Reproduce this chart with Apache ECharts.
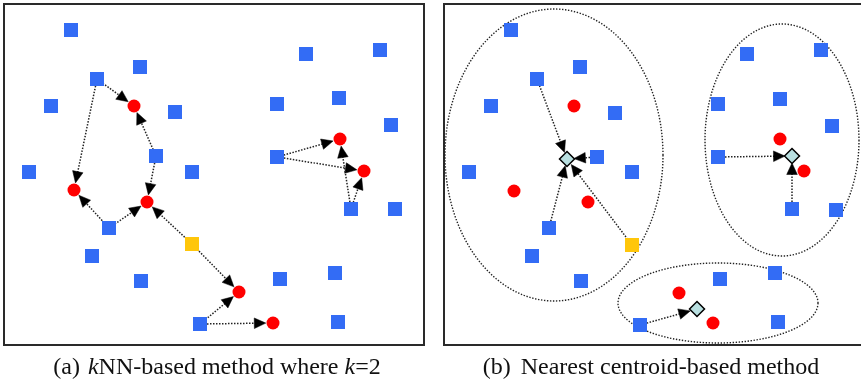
<!DOCTYPE html>
<html><head><meta charset="utf-8">
<script src="https://cdn.jsdelivr.net/npm/echarts@6/dist/echarts.min.js"></script>
<style>html,body{margin:0;padding:0;background:#fff}#c{width:861px;height:382px}</style>
</head><body><div id="c"></div>
<script>
// ---- Panel (a): kNN-based ----
const blueA = [[71,30],[140,67],[97,79],[51,106],[175,112],[156,156],[29,172],[192,172],[306,54],[380,50],[277,104],[339,98],[391,125],[277,157],[351,209],[395,209],[109,228],[92,256],[141,281],[280,279],[335,273],[200,324],[338,322]];
const yellowA = [[192,244]];
const redA = [[134,106],[340,139],[364,171],[74,190],[147,202],[239,292],[273,323]];
const edgesA = [
  [blueA[2], redA[0]], [blueA[2], redA[3]],
  [blueA[5], redA[0]], [blueA[5], redA[4]],
  [blueA[16], redA[3]], [blueA[16], redA[4]],
  [yellowA[0], redA[4]], [yellowA[0], redA[5]],
  [blueA[21], redA[5]], [blueA[21], redA[6]],
  [blueA[13], redA[1]], [blueA[13], redA[2]],
  [blueA[14], redA[1]], [blueA[14], redA[2]]
];
// ---- Panel (b): nearest centroid ----
const blueB = [[511,30],[580,67],[537,79],[491,106],[615,113],[597,157],[469,172],[632,172],[747,54],[821,50],[718,104],[780,99],[832,126],[718,157],[792,209],[836,210],[549,228],[532,256],[581,281],[720,279],[775,273],[640,325],[778,322]];
const yellowB = [[632,245]];
const redB = [[574,106],[780,139],[804,171],[514,191],[588,202],[679,293],[713,323]];
const centroidB = [[567,159],[792,156],[697,309]];
const edgesB = [
  [blueB[2], centroidB[0]], [blueB[5], centroidB[0]], [blueB[16], centroidB[0]], [yellowB[0], centroidB[0]],
  [blueB[13], centroidB[1]], [blueB[14], centroidB[1]],
  [blueB[21], centroidB[2]]
];
// cluster ellipses: [cx, cy, rx, ry]
const clustersB = [[554,155,109,146],[782,140,77,116],[718,303,100,40]];
// panel frames: [x1, y1, x2, y2]
const panels = [[4,4,424,345],[444,4,875,345]];
const captions = ['(a) \u200A{i|k}NN-based method where {i|k}=2', '(b) \u200A\u200ANearest centroid-based method'];
const captionX = [217, 651];

const BLUE = '#336cf5', RED = '#ff0000', YELLOW = '#ffc60a';

function edgeData(edges, r) {
  return edges.map(e => [e[0][0], e[0][1], e[1][0], e[1][1], r]);
}

function renderArrow(params, api) {
  const p1 = api.coord([api.value(0), api.value(1)]);
  const p2 = api.coord([api.value(2), api.value(3)]);
  const r = api.value(4);
  const dx = p2[0]-p1[0], dy = p2[1]-p1[1];
  const len = Math.sqrt(dx*dx+dy*dy);
  const ux = dx/len, uy = dy/len;
  const tip = [p2[0]-ux*r, p2[1]-uy*r];
  const L = 11.5, W = 5.3;
  const base = [tip[0]-ux*L, tip[1]-uy*L];
  const start = [p1[0]+ux*7, p1[1]+uy*7];
  return {
    type: 'group',
    children: [
      {type:'line', shape:{x1:start[0], y1:start[1], x2:base[0]+ux*2, y2:base[1]+uy*2},
       style:{stroke:'#222', lineWidth:1.5, lineDash:[1.5,1.5], fill:null}},
      {type:'polygon', shape:{points:[tip, [base[0]-uy*W, base[1]+ux*W], [base[0]+uy*W, base[1]-ux*W]]},
       style:{fill:'#000', stroke:'#000', lineWidth:0.5}}
    ]
  };
}

function renderEllipse(params, api) {
  const c = api.coord([api.value(0), api.value(1)]);
  const s = api.size([api.value(2), api.value(3)]);
  const pts = [];
  for (let k = 0; k < 180; k++) {
    const t = k/180*Math.PI*2;
    pts.push([c[0]+s[0]*Math.cos(t), c[1]+s[1]*Math.sin(t)]);
  }
  return {type:'polygon', shape:{points:pts}, style:{fill:null, stroke:'#222', lineWidth:1.4, lineDash:[1.4,1.6]}};
}

function renderPanel(params, api) {
  const a = api.coord([api.value(0), api.value(1)]);
  const b = api.coord([api.value(2), api.value(3)]);
  return {type:'rect', shape:{x:a[0], y:a[1], width:b[0]-a[0], height:b[1]-a[1]},
    style:{fill:null, stroke:'#2a2a2a', lineWidth:2}};
}

const chart = echarts.init(document.getElementById('c'), null, {renderer:'canvas'});
chart.setOption({
  animation: false,
  backgroundColor: '#fff',
  grid: {left:0, right:0, top:0, bottom:0},
  xAxis: {type:'value', min:0, max:861, show:false},
  yAxis: {type:'value', min:0, max:382, inverse:true, show:false},
  graphic: captions.map((t, i) => ({
    type:'text', x: captionX[i], y: 368,
    style:{text:t, fill:'#111', font:'24px "Liberation Serif"', align:'center', verticalAlign:'middle',
      rich:{i:{fontStyle:'italic', fontFamily:'Liberation Serif', fontSize:24, fill:'#111'}}}
  })),
  series: [
    {type:'custom', renderItem:renderPanel, data:panels, z:1, silent:true},
    {type:'custom', renderItem:renderEllipse, data:clustersB, z:2, silent:true},
    {type:'custom', renderItem:renderArrow, data:edgeData(edgesA, 7.2), z:3, silent:true},
    {type:'custom', renderItem:renderArrow, data:edgeData(edgesB, 7), z:3, silent:true},
    {type:'scatter', data:blueA.concat(blueB), symbol:'rect', symbolSize:14, itemStyle:{color:BLUE, opacity:1}, z:5},
    {type:'scatter', data:yellowA.concat(yellowB), symbol:'rect', symbolSize:14, itemStyle:{color:YELLOW, opacity:1}, z:5},
    {type:'scatter', data:redA.concat(redB), symbol:'circle', symbolSize:13, itemStyle:{color:RED, opacity:1}, z:5},
    {type:'scatter', data:centroidB, symbol:'diamond', symbolSize:15, itemStyle:{color:'#b8dfe0', borderColor:'#000', borderWidth:1.5, opacity:1}, z:6}
  ]
});
</script></body></html>
